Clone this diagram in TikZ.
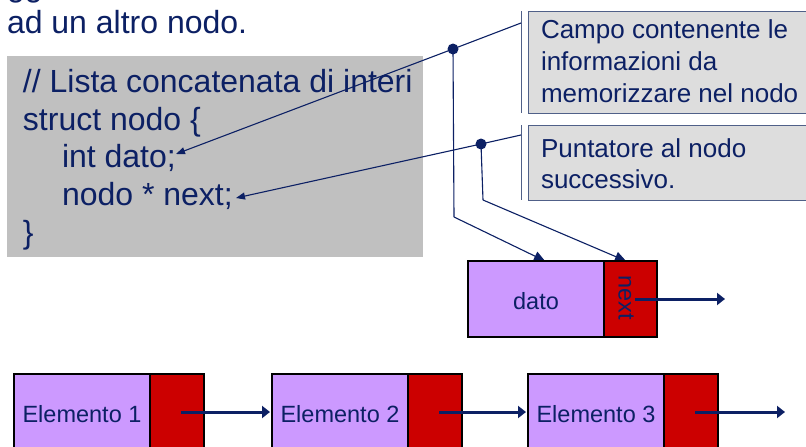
\documentclass[tikz,border=0pt]{standalone}
\usepackage{fontspec}
\setmainfont{Liberation Sans}
\usetikzlibrary{arrows.meta}

\definecolor{navy}{RGB}{12,32,100}
\definecolor{codegray}{RGB}{192,192,192}
\definecolor{notegray}{RGB}{221,221,221}
\definecolor{noteedge}{RGB}{80,96,136}
\definecolor{datafill}{RGB}{204,153,255}
\definecolor{linkfill}{RGB}{204,0,0}

\tikzset{
  txt/.style={inner sep=0pt, outer sep=0pt, text=navy, anchor=base west},
  codetxt/.style={txt, font=\fontsize{32}{38}\selectfont},
  notetxt/.style={txt, font=\fontsize{26}{31}\selectfont},
  celltxt/.style={inner sep=0pt, text=navy, anchor=base, font=\fontsize{23.5}{28}\selectfont},
  notebox/.style={draw=noteedge, line width=0.9pt, fill=notegray},
  notebar/.style={draw=noteedge, line width=0.9pt},
  leader/.style={draw=navy, line width=1.1pt},
  leadarrow/.style={leader, -{Triangle[length=9pt,width=7pt]}},
  droparrow/.style={leader, -{Triangle[length=11pt,width=10pt]}},
  pin/.style={circle, fill=navy, inner sep=0pt, minimum size=11pt},
  datacell/.style={draw=black, line width=1.6pt, fill=datafill},
  linkcell/.style={draw=black, line width=1.6pt, fill=linkfill},
  linkarrow/.style={draw=navy, line width=3pt, -{Triangle[length=8pt,width=12pt]}},
}

\begin{document}
\begin{tikzpicture}[x=1pt,y=-1pt]
\clip (0,0) rectangle (806,447);
\fill[white] (0,0) rectangle (806,447);

% heading text above the code
\node[codetxt] (gg) at (7,-3) {gg};
\node[codetxt] (head) at (7,33) {ad un altro nodo.};

% code listing
\fill[codegray] (7,56) rectangle (423,257);
\node[codetxt] (l1) at (23,92) {// Lista concatenata di interi};
\node[codetxt] (l2) at (23,130) {struct nodo \{};
\node[codetxt] (l3) at (62,167) {int dato;};
\node[codetxt] (l4) at (62,205) {nodo * next;};
\node[codetxt] (l5) at (23,243) {\}};

% callout boxes
\path[notebox] (528,11) rectangle (812,113);
\draw[notebar] (521,11) -- (521,113);
\node[notetxt] (n1a) at (541,38) {Campo contenente le};
\node[notetxt] (n1b) at (541,70) {informazioni da};
\node[notetxt] (n1c) at (541,102) {memorizzare nel nodo};

\path[notebox] (528,125) rectangle (812,200);
\draw[notebar] (521,125) -- (521,200);
\node[notetxt] (n2a) at (541,157) {Puntatore al nodo};
\node[notetxt] (n2b) at (541,188) {successivo.};

% leader lines from the callouts
\coordinate (a1) at (521,23);
\coordinate (a2) at (521,135);
\coordinate (t1) at (176,154);
\coordinate (t2) at (236,198);
\coordinate (k1) at (454,217);
\coordinate (k2) at (483,200);
\coordinate (e1) at (545,261);
\coordinate (e2) at (626,261);

\draw[leader] (a1) -- (453,49);
\draw[leadarrow] (453,49) -- (t1);
\draw[leader] (453,49) -- (k1);
\draw[droparrow] (k1) -- (e1);

\draw[leader] (a2) -- (481,144);
\draw[leadarrow] (481,144) -- (t2);
\draw[leader] (481,144) -- (k2);
\draw[droparrow] (k2) -- (e2);

\node[pin] (p1) at (453,49) {};
\node[pin] (p2) at (481,144) {};

% single node: data field and link field
\path[datacell] (468,261) rectangle (604,337);
\path[linkcell] (604,261) rectangle (657,337);
\node[celltxt] (dato) at (536,309) {dato};
\node[celltxt, anchor=center, rotate=-90] (next) at (626,298) {next};
\coordinate (nx) at (725,299);
\draw[linkarrow] (635,299) -- (nx);

% linked list of three elements
\foreach \x/\lbl [count=\i] in {14/Elemento 1, 272/Elemento 2, 528/Elemento 3} {
  \path[datacell] (\x,374) rectangle ({\x+136},460);
  \path[linkcell] ({\x+136},374) rectangle ({\x+190},460);
  \node[celltxt] (el\i) at ({\x+68},422) {\lbl};
  \coordinate (src\i) at ({\x+167},412);
}
\coordinate (end3) at (785,412);
\draw[linkarrow] (src1) -- (270,412);
\draw[linkarrow] (src2) -- (526,412);
\draw[linkarrow] (src3) -- (end3);
\end{tikzpicture}
\end{document}
